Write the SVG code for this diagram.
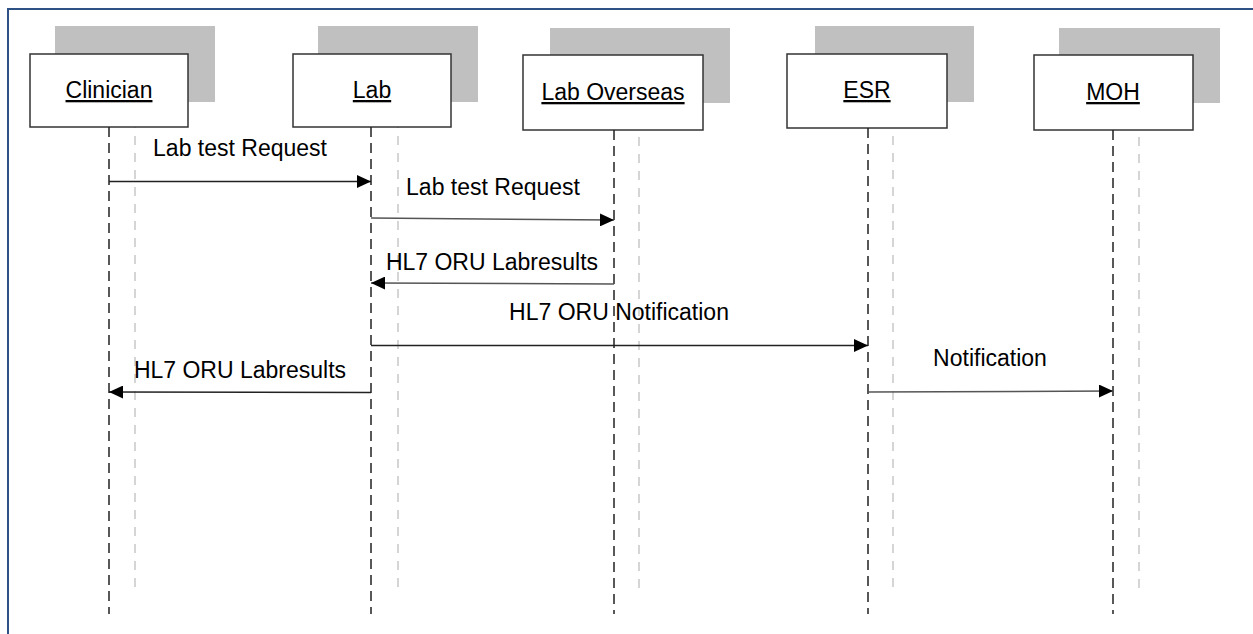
<svg xmlns="http://www.w3.org/2000/svg" width="1253" height="634" viewBox="0 0 1253 634">
  <style>
    .frame { fill: none; stroke: #2f5286; stroke-width: 2; }
    .shadow { fill: #c0c0c0; }
    .box { fill: #ffffff; stroke: #333333; stroke-width: 1.5; }
    .name { font-family: "Liberation Sans", Arial, sans-serif; font-size: 23px; fill: #000; text-anchor: middle; text-decoration: underline; }
    .life { stroke: #222; stroke-width: 1.5; stroke-dasharray: 10 6; fill: none; }
    .ghost { stroke: #c8c8c8; stroke-width: 1.5; stroke-dasharray: 9 8; fill: none; }
    .msg { stroke: #222; stroke-width: 1.5; fill: none; marker-end: url(#head); }
    .msg2 { stroke: #555; stroke-width: 1.5; fill: none; marker-end: url(#head); }
    .label { font-family: "Liberation Sans", Arial, sans-serif; font-size: 23px; fill: #000; text-anchor: middle; }
  </style>
  <defs>
    <marker id="head" viewBox="0 0 14 13" refX="14" refY="6.5" markerWidth="14" markerHeight="13" markerUnits="userSpaceOnUse" orient="auto">
      <path d="M0,0 L14,6.5 L0,13 Z" fill="#000"/>
    </marker>
  </defs>

  <rect width="1253" height="634" fill="#ffffff"/>
  <rect class="frame" x="8" y="9" width="1260" height="640"/>

  <!-- lifelines (light trailing copies drawn under the boxes) -->
  <g id="ghost-lifelines">
    <line class="ghost" x1="135" y1="102" x2="135" y2="588"/>
    <line class="ghost" x1="398" y1="102" x2="398" y2="588"/>
    <line class="ghost" x1="639" y1="103" x2="639" y2="588"/>
    <line class="ghost" x1="893" y1="102" x2="893" y2="588"/>
    <line class="ghost" x1="1139" y1="103" x2="1139" y2="588"/>
  </g>

  <g id="clinician">
    <rect class="shadow" x="55" y="26" width="160" height="76"/>
    <rect class="box" x="30" y="54" width="158" height="73"/>
    <text class="name" x="109" y="98">Clinician</text>
    <line class="life" x1="109" y1="127" x2="109" y2="614"/>
  </g>
  <g id="lab">
    <rect class="shadow" x="318" y="26" width="160" height="76"/>
    <rect class="box" x="293" y="54" width="158" height="73"/>
    <text class="name" x="372" y="98">Lab</text>
    <line class="life" x1="371" y1="127" x2="371" y2="614"/>
  </g>
  <g id="lab-overseas">
    <rect class="shadow" x="550" y="28" width="180" height="75"/>
    <rect class="box" x="523" y="55" width="180" height="75"/>
    <text class="name" x="613" y="100">Lab Overseas</text>
    <line class="life" x1="614" y1="130" x2="614" y2="614"/>
  </g>
  <g id="esr">
    <rect class="shadow" x="815" y="26" width="159" height="76"/>
    <rect class="box" x="787" y="54" width="160" height="74"/>
    <text class="name" x="867" y="98">ESR</text>
    <line class="life" x1="868" y1="128" x2="868" y2="614"/>
  </g>
  <g id="moh">
    <rect class="shadow" x="1059" y="28" width="161" height="75"/>
    <rect class="box" x="1034" y="55" width="159" height="75"/>
    <text class="name" x="1113" y="100">MOH</text>
    <line class="life" x1="1113" y1="130" x2="1113" y2="614"/>
  </g>

  <g id="messages">
    <line class="msg" x1="109" y1="181.5" x2="371" y2="181.5"/>
    <text class="label" x="240" y="156">Lab test Request</text>

    <line class="msg2" x1="371" y1="218" x2="614" y2="220"/>
    <text class="label" x="493" y="195">Lab test Request</text>

    <line class="msg2" x1="614" y1="284" x2="371" y2="283"/>
    <text class="label" x="492" y="270">HL7 ORU Labresults</text>

    <line class="msg" x1="371" y1="345.5" x2="868" y2="345.5"/>
    <text class="label" x="619" y="320">HL7 ORU Notification</text>

    <line class="msg" x1="371" y1="392.5" x2="109" y2="392"/>
    <text class="label" x="240" y="378">HL7 ORU Labresults</text>

    <line class="msg2" x1="868" y1="392" x2="1113" y2="391"/>
    <text class="label" x="990" y="366">Notification</text>
  </g>
</svg>
